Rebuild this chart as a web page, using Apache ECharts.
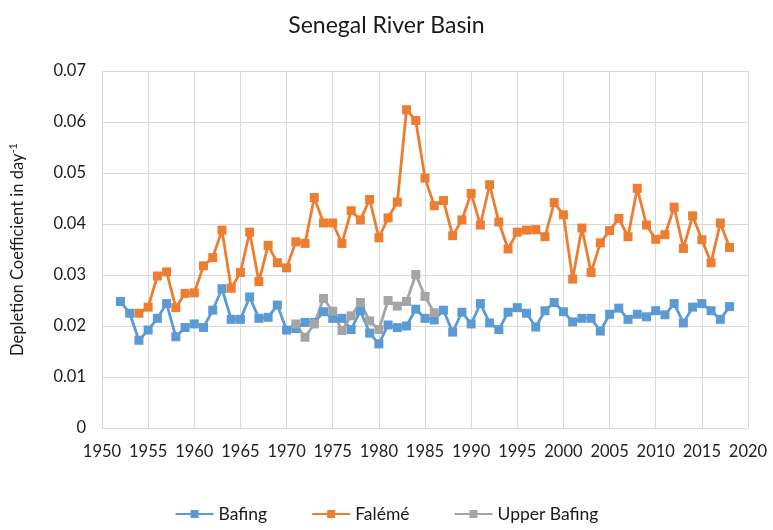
<!DOCTYPE html>
<html>
<head>
<meta charset="utf-8">
<script src="https://cdn.jsdelivr.net/npm/echarts@6/dist/echarts.min.js"></script>
<style>
  html, body { margin: 0; padding: 0; background: #fff; }
  #chart { width: 773px; height: 530px; }
</style>
</head>
<body>
<div id="chart"></div>
<script>
// 年份与数值
var bafingYears = [1952, 1953, 1954, 1955, 1956, 1957, 1958, 1959, 1960, 1961, 1962, 1963, 1964, 1965, 1966, 1967, 1968, 1969, 1970, 1971, 1972, 1973, 1974, 1975, 1976, 1977, 1978, 1979, 1980, 1981, 1982, 1983, 1984, 1985, 1986, 1987, 1988, 1989, 1990, 1991, 1992, 1993, 1994, 1995, 1996, 1997, 1998, 1999, 2000, 2001, 2002, 2003, 2004, 2005, 2006, 2007, 2008, 2009, 2010, 2011, 2012, 2013, 2014, 2015, 2016, 2017, 2018]
var bafingValues = [0.0248, 0.0225, 0.0172, 0.0192, 0.0215, 0.0244, 0.0179, 0.0197, 0.0204, 0.0197, 0.0231, 0.0273, 0.0213, 0.0213, 0.0257, 0.0215, 0.0217, 0.0241, 0.0192, 0.0195, 0.0207, 0.0207, 0.0228, 0.0215, 0.0215, 0.0193, 0.0230, 0.0186, 0.0165, 0.0202, 0.0197, 0.0200, 0.0233, 0.0215, 0.0212, 0.0231, 0.0188, 0.0227, 0.0204, 0.0244, 0.0206, 0.0193, 0.0227, 0.0236, 0.0225, 0.0198, 0.0230, 0.0246, 0.0228, 0.0208, 0.0215, 0.0215, 0.0190, 0.0223, 0.0235, 0.0213, 0.0223, 0.0218, 0.0230, 0.0222, 0.0244, 0.0206, 0.0237, 0.0244, 0.0230, 0.0213, 0.0238]

var falemeYears = [1954, 1955, 1956, 1957, 1958, 1959, 1960, 1961, 1962, 1963, 1964, 1965, 1966, 1967, 1968, 1969, 1970, 1971, 1972, 1973, 1974, 1975, 1976, 1977, 1978, 1979, 1980, 1981, 1982, 1983, 1984, 1985, 1986, 1987, 1988, 1989, 1990, 1991, 1992, 1993, 1994, 1995, 1996, 1997, 1998, 1999, 2000, 2001, 2002, 2003, 2004, 2005, 2006, 2007, 2008, 2009, 2010, 2011, 2012, 2013, 2014, 2015, 2016, 2017, 2018]
var falemeValues = [0.0225, 0.0237, 0.0298, 0.0306, 0.0236, 0.0264, 0.0265, 0.0318, 0.0334, 0.0388, 0.0274, 0.0305, 0.0384, 0.0287, 0.0358, 0.0324, 0.0314, 0.0365, 0.0362, 0.0452, 0.0402, 0.0402, 0.0362, 0.0426, 0.0408, 0.0448, 0.0373, 0.0412, 0.0443, 0.0624, 0.0603, 0.0490, 0.0436, 0.0446, 0.0377, 0.0408, 0.0460, 0.0398, 0.0477, 0.0404, 0.0351, 0.0384, 0.0388, 0.0389, 0.0375, 0.0442, 0.0418, 0.0292, 0.0392, 0.0305, 0.0363, 0.0387, 0.0411, 0.0375, 0.0470, 0.0398, 0.0370, 0.0379, 0.0433, 0.0352, 0.0416, 0.0369, 0.0324, 0.0402, 0.0354]

var upperYears = [1971, 1972, 1973, 1974, 1975, 1976, 1977, 1978, 1979, 1980, 1981, 1982, 1983, 1984, 1985, 1986]
var upperValues = [0.0204, 0.0178, 0.0204, 0.0254, 0.0229, 0.0191, 0.0220, 0.0246, 0.0210, 0.0193, 0.0250, 0.0239, 0.0248, 0.0301, 0.0258, 0.0226]

function pairs(xs, ys) {
    var out = []
    for (var i = 0; i < xs.length; i++) out.push([xs[i], ys[i]])
    return out
}

var fontName = 'Lato'
var myChart = echarts.init(document.getElementById('chart'))

function makeSeries(name, color, data) {
    return {
        name: name,
        type: 'line',
        data: data,
        symbol: 'rect',
        symbolSize: 9,
        lineStyle: { width: 2.8, color: color },
        itemStyle: { color: color },
        emphasis: { disabled: true },
        animation: false
    }
}

var option = {
    backgroundColor: '#fff',
    title: {
        text: 'Senegal River Basin',
        left: 'center',
        top: 9,
        textStyle: { fontFamily: fontName, fontSize: 23, fontWeight: 'normal', color: '#1a1a1a' }
    },
    grid: {
        left: 94,
        right: 25,
        top: 71,
        bottom: 102
    },
    xAxis: {
        type: 'value',
        min: 1950,
        max: 2020,
        interval: 5,
        axisLine: { show: true, lineStyle: { color: '#d9d9d9' } },
        axisTick: { show: false },
        splitLine: { show: true, lineStyle: { color: '#d9d9d9', width: 1 } },
        axisLabel: {
            color: '#222', fontFamily: fontName, fontSize: 16.5, margin: 15,
            formatter: function (v) { return String(v) }
        }
    },
    yAxis: {
        type: 'value',
        min: 0,
        max: 0.07,
        interval: 0.01,
        name: 'Depletion Coefficient in day{sup|-1}',
        nameLocation: 'middle',
        nameGap: 74,
        nameTextStyle: {
            fontFamily: fontName, fontSize: 16.5, color: '#1a1a1a',
            rich: {
                sup: { fontFamily: fontName, fontSize: 11, color: '#1a1a1a', verticalAlign: 'top', padding: [0, 0, 9, 0] }
            }
        },
        axisLine: { show: false },
        axisTick: { show: false },
        splitLine: { show: true, lineStyle: { color: '#d9d9d9', width: 1 } },
        axisLabel: {
            color: '#1a1a1a', fontFamily: fontName, fontSize: 16.5, margin: 16,
            formatter: function (v) { return v === 0 ? '0' : v.toFixed(2) }
        }
    },
    legend: {
        bottom: 2,
        left: 'center',
        itemWidth: 38,
        itemHeight: 10,
        itemGap: 44,
        textStyle: { fontFamily: fontName, fontSize: 17.5, color: '#1a1a1a' },
        data: ['Bafing', 'Falémé', 'Upper Bafing']
    },
    series: [
        makeSeries('Bafing', '#5b9bd5', pairs(bafingYears, bafingValues)),
        makeSeries('Falémé', '#ed7d31', pairs(falemeYears, falemeValues)),
        makeSeries('Upper Bafing', '#a5a5a5', pairs(upperYears, upperValues))
    ]
}
myChart.setOption(option)
</script>
</body>
</html>
